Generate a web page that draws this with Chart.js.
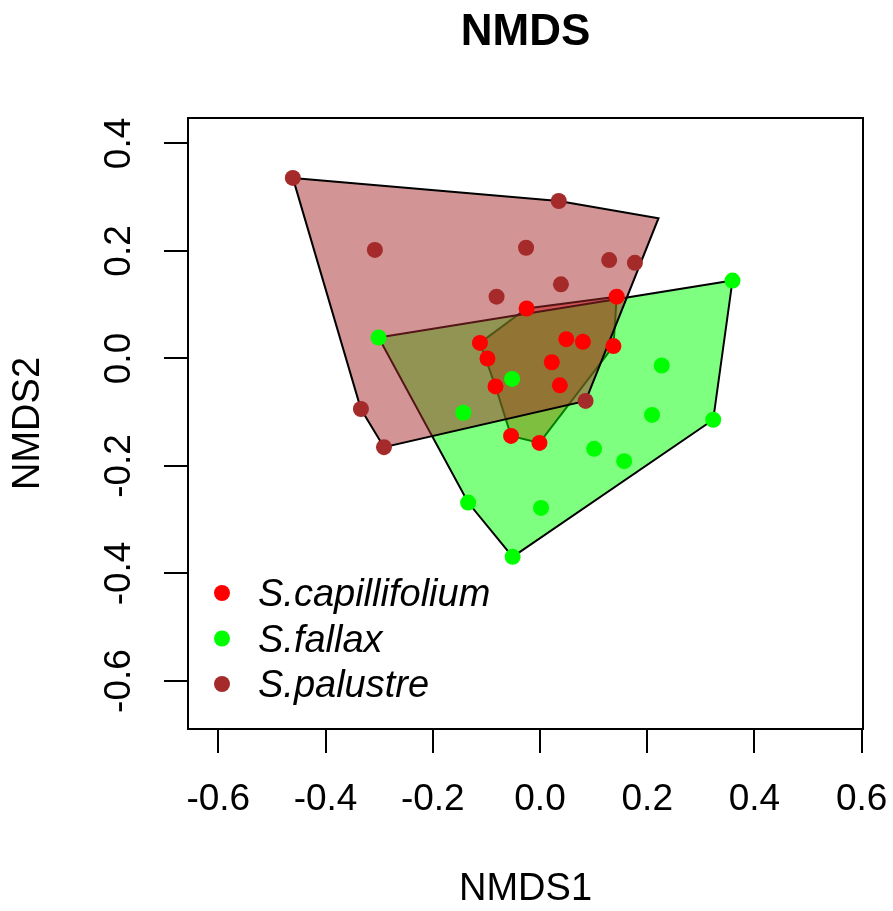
<!DOCTYPE html>
<html lang="en">
<head>
<meta charset="UTF-8">
<title>NMDS</title>
<style>
  body { margin: 0; background: #fff; }
  #wrap { width: 893px; height: 911px; }
</style>
</head>
<body>
<div id="wrap"><canvas id="nmdsChart" width="893" height="911"></canvas></div>
<script src="https://cdn.jsdelivr.net/npm/chart.js"></script>
<script>
// species and colours
const species = ['S.capillifolium', 'S.fallax', 'S.palustre'];
const pointColors = ['#FF0000', '#00FF00', '#A52A2A'];
const hullColors = ['rgba(255,0,0,0.5)', 'rgba(0,255,0,0.5)', 'rgba(165,42,42,0.5)'];

// site scores (NMDS1, NMDS2)
const capX = [-0.025, 0.143, -0.112, -0.098, 0.049, 0.080, 0.137, 0.022, -0.083, 0.037, -0.054, -0.001];
const capY = [0.093, 0.115, 0.029, 0.000, 0.036, 0.031, 0.023, -0.007, -0.052, -0.050, -0.144, -0.157];

const falX = [-0.301, 0.359, -0.052, -0.143, 0.227, 0.209, 0.323, 0.101, 0.157, -0.134, 0.002, -0.051];
const falY = [0.039, 0.145, -0.038, -0.101, -0.013, -0.105, -0.114, -0.168, -0.191, -0.268, -0.278, -0.369];

const palX = [-0.461, 0.035, -0.308, -0.026, 0.129, 0.177, -0.081, 0.039, -0.334, -0.291, 0.085];
const palY = [0.336, 0.293, 0.202, 0.206, 0.183, 0.178, 0.115, 0.138, -0.094, -0.165, -0.079];

// hull outlines
const capHullX = [-0.112, -0.025, 0.143, 0.137, -0.001, -0.054, -0.083];
const capHullY = [0.029, 0.093, 0.115, 0.023, -0.157, -0.144, -0.052];
const falHullX = [-0.301, 0.359, 0.323, -0.051, -0.134];
const falHullY = [0.039, 0.145, -0.114, -0.369, -0.268];
const palHullX = [-0.461, 0.035, 0.221, 0.085, -0.291, -0.334];
const palHullY = [0.336, 0.293, 0.261, -0.079, -0.165, -0.094];

// axes
const xTicks = [-0.6, -0.4, -0.2, 0.0, 0.2, 0.4, 0.6];
const yTicks = [-0.6, -0.4, -0.2, 0.0, 0.2, 0.4];
const xRange = [-0.6565, 0.6024];
const yRange = [-0.6893, 0.4474];

function pts(xs, ys) {
    return xs.map((x, i) => ({ x: x, y: ys[i] }));
}
function closed(xs, ys) {
    const p = pts(xs, ys);
    p.push(p[0]);
    return p;
}

const FONT = '"Liberation Sans", Arial, sans-serif';

const hullSets = [[capHullX, capHullY], [falHullX, falHullY], [palHullX, palHullY]];
const pointSets = [[capX, capY], [falX, falY], [palX, palY]];

const datasets = [];
hullSets.forEach((h, i) => {
    datasets.push({
        label: species[i] + ' hull',
        data: closed(h[0], h[1]),
        showLine: true,
        fill: 'shape',
        backgroundColor: hullColors[i],
        borderColor: '#000',
        borderWidth: 2,
        tension: 0,
        pointRadius: 0,
        order: 6 - i
    });
});
pointSets.forEach((p, i) => {
    datasets.push({
        label: species[i],
        data: pts(p[0], p[1]),
        backgroundColor: pointColors[i],
        borderWidth: 0,
        pointRadius: 8,
        order: 3 - i
    });
});

// title over the plot region, box around it, legend in the lower left corner
const boxAndLegend = {
    id: 'boxAndLegend',
    afterDraw(chart) {
        const ctx = chart.ctx;
        const a = chart.chartArea;
        ctx.save();
        ctx.strokeStyle = '#000';
        ctx.lineWidth = 2;
        ctx.strokeRect(a.left, a.top, a.right - a.left, a.bottom - a.top);

        ctx.fillStyle = '#000';
        ctx.font = 'bold 44px ' + FONT;
        ctx.textAlign = 'center';
        ctx.textBaseline = 'alphabetic';
        ctx.fillText('NMDS', (a.left + a.right) / 2, 45);

        ctx.font = 'italic 38px ' + FONT;
        ctx.textAlign = 'left';
        species.forEach((name, i) => {
            const y = a.bottom - 136 + i * 45.5;
            ctx.fillStyle = pointColors[i];
            ctx.beginPath();
            ctx.arc(a.left + 34, y, 8, 0, Math.PI * 2);
            ctx.fill();
            ctx.fillStyle = '#000';
            ctx.fillText(name, a.left + 70, y + 13);
        });
        ctx.restore();
    }
};

new Chart(document.getElementById('nmdsChart'), {
    type: 'scatter',
    data: { datasets: datasets },
    plugins: [boxAndLegend],
    options: {
        responsive: false,
        animation: false,
        layout: { padding: { left: 0, top: 118, right: 30, bottom: 0 } },
        plugins: {
            legend: { display: false },
            tooltip: { enabled: false },
            title: { display: false }
        },
        scales: {
            x: {
                type: 'linear',
                min: xRange[0],
                max: xRange[1],
                afterBuildTicks: s => { s.ticks = xTicks.map(v => ({ value: v })); },
                afterFit: s => { s.height = 182; s.paddingLeft = 0; s.paddingRight = 0; },
                border: { display: false },
                grid: { drawOnChartArea: false, drawTicks: true, tickLength: 24, color: '#000', lineWidth: 2 },
                ticks: {
                    color: '#000',
                    font: { family: FONT, size: 37, lineHeight: 1 },
                    padding: 28,
                    maxRotation: 0,
                    autoSkip: false,
                    callback: v => v.toFixed(1)
                },
                title: {
                    display: true,
                    text: 'NMDS1',
                    color: '#000',
                    font: { family: FONT, size: 38, lineHeight: 1 },
                    padding: { top: 0, bottom: 2 }
                }
            },
            y: {
                type: 'linear',
                min: yRange[0],
                max: yRange[1],
                afterBuildTicks: s => { s.ticks = yTicks.map(v => ({ value: v })); },
                afterFit: s => { s.width = 188; s.paddingTop = 0; s.paddingBottom = 0; },
                border: { display: false },
                grid: { drawOnChartArea: false, drawTicks: true, tickLength: 24, color: '#000', lineWidth: 2 },
                ticks: {
                    color: '#000',
                    font: { family: FONT, size: 37, lineHeight: 1 },
                    padding: 12,
                    minRotation: 90,
                    maxRotation: 90,
                    crossAlign: 'center',
                    autoSkip: false,
                    callback: v => v.toFixed(1)
                },
                title: {
                    display: true,
                    text: 'NMDS2',
                    color: '#000',
                    font: { family: FONT, size: 38, lineHeight: 1 },
                    padding: { top: 10, bottom: 0 }
                }
            }
        }
    }
});
</script>
</body>
</html>
